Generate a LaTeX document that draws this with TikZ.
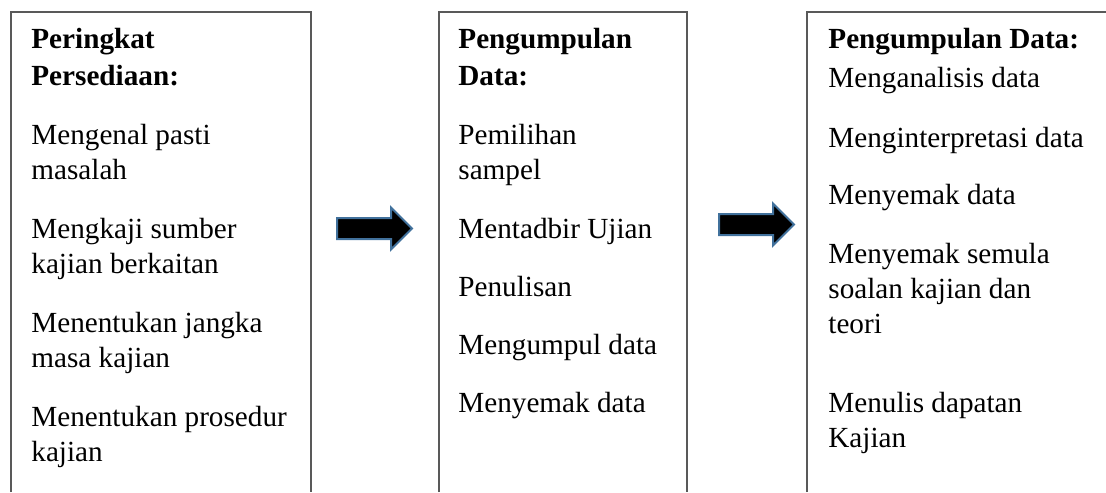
\documentclass[tikz,border=0pt]{standalone}
\usepackage{fontspec}
\setmainfont{Liberation Serif}
\definecolor{arrowedge}{RGB}{65,113,156}
\begin{document}
\begin{tikzpicture}[x=0.5pt, y=-0.5pt, every node/.style={font=\fontsize{14.6}{17}\selectfont, anchor=base west, inner sep=0pt}, head/.style={font=\fontsize{14.6}{17}\selectfont\bfseries}, frame/.style={draw=black!65, line width=1pt}, blockarrow/.style={fill=black, draw=arrowedge, line width=1pt, line join=miter}]
	\useasboundingbox (0,0) rectangle (1106,492);
	% the three stage columns, open at the bottom
	\coordinate (s1) at (11,12); \coordinate (s2) at (439,12); \coordinate (s3) at (807,12);
	\draw[frame] (11,492) -- (s1) -- (311,12) -- (311,492);
	\draw[frame] (439,492) -- (s2) -- (687,12) -- (687,492);
	\draw[frame] (807,492) -- (s3) -- (1106,12);
	% block arrows between the columns
	\foreach \ax/\ay in {337/228.5, 719/224.5} {\draw[blockarrow] (\ax,\ay-10.5) -- (\ax+54,\ay-10.5) -- (\ax+54,\ay-21) -- (\ax+75,\ay) -- (\ax+54,\ay+21) -- (\ax+54,\ay+10.5) -- (\ax,\ay+10.5) -- cycle;}
	% column 1
	\node[head] (h1a) at (31,49) {Peringkat}; \node[head] (h1b) at (31,86) {Persediaan:};
	\foreach \yy/\txt [count=\i] in {144/Mengenal pasti, 179/masalah, 238/Mengkaji sumber, 273/kajian berkaitan, 332/Menentukan jangka, 367/masa kajian, 426/Menentukan prosedur, 461/kajian} {\node (a\i) at (31,\yy) {\txt};}
	% column 2
	\node[head] (h2a) at (458,49) {Pengumpulan}; \node[head] (h2b) at (458,86) {Data:};
	\foreach \yy/\txt [count=\i] in {144/Pemilihan, 179/sampel, 238/Mentadbir Ujian, 296/Penulisan, 354/Mengumpul data, 412/Menyemak data} {\node (b\i) at (458,\yy) {\txt};}
	% column 3
	\node[head] (h3a) at (828,49) {Pengumpulan Data:};
	\foreach \yy/\txt [count=\i] in {88/Menganalisis data, 147/Menginterpretasi data, 204/Menyemak data, 263/Menyemak semula, 298/soalan kajian dan, 333/teori, 412/Menulis dapatan, 447/Kajian} {\node (c\i) at (828,\yy) {\txt};}
\end{tikzpicture}
\end{document}
